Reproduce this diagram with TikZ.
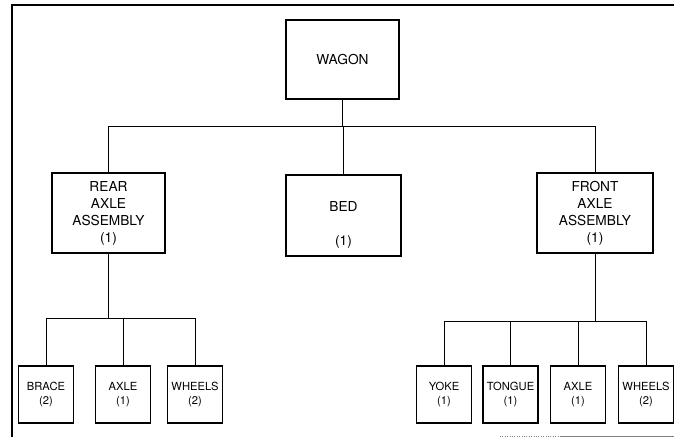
\documentclass[tikz,border=0pt]{standalone}
\usepackage{fontspec}
\setmainfont{TeX Gyre Heros}
\begin{document}
\begin{tikzpicture}[x=1pt, y=-1pt,
    bigbox/.style={draw, line width=1.1pt, align=center, inner sep=1pt,
        font=\fontsize{13.7}{17}\selectfont},
    smallbox/.style={draw, line width=1.1pt, align=center, inner sep=0.5pt,
        minimum width=55pt, minimum height=57pt,
        font=\fontsize{11.2}{14}\selectfont},
    link/.style={line width=1pt}]
    \useasboundingbox (0,0) rectangle (674,440);

    % frame
    \draw[line width=2pt] (674,5) -- (12,5) -- (12,437);
    \draw[gray, dotted] (500,436) -- (560,436);
    \draw[gray, line width=0.8pt] (560,436) -- (674,436);

    % upper levels
    \node[bigbox, minimum width=113pt, minimum height=79pt] (wagon) at (342.5,59.5) {WAGON};
    \node[bigbox, minimum width=113pt, minimum height=80pt] (rear) at (108.5,213) {REAR\\AXLE\\ASSEMBLY\\(1)};
    \node[bigbox, minimum width=115pt, minimum height=81pt] (bed) at (343.5,215.5) {\strut\\BED\\\strut\\(1)};
    \node[bigbox, minimum width=116pt, minimum height=80pt] (front) at (595,213) {FRONT\\AXLE\\ASSEMBLY\\(1)};

    % parts
    \foreach \nm/\x/\txt in {lbrace/46/{BRACE\\(2)}, laxle/123/{AXLE\\(1)},
            lwheels/195/{WHEELS\\(2)}, ryoke/444/{YOKE\\(1)},
            rtongue/510.5/{TONGUE\\(1)}, raxle/578/{AXLE\\(1)},
            rwheels/646/{WHEELS\\(2)}}
        \node[smallbox] (\nm) at (\x,394.5) {\txt};

    % connectors
    \path (wagon.south) ++(0,27) coordinate (topbus);
    \draw[link] (wagon.south) -- (topbus);
    \draw[link] (rear.north) |- (topbus) -| (front.north);
    \draw[link] (bed.north) -- (bed.north |- topbus);

    \path (rear.south) ++(0,65) coordinate (lbus);
    \draw[link] (rear.south) -- (lbus);
    \draw[link] (lbrace.north) |- (lbus) -| (lwheels.north);
    \draw[link] (laxle.north) -- (laxle.north |- lbus);

    \path (front.south) ++(0,68) coordinate (rbus);
    \draw[link] (front.south) -- (rbus);
    \draw[link] (ryoke.north) |- (rbus) -| (rwheels.north);
    \draw[link] (rtongue.north) -- (rtongue.north |- rbus);
    \draw[link] (raxle.north) -- (raxle.north |- rbus);
\end{tikzpicture}
\end{document}
